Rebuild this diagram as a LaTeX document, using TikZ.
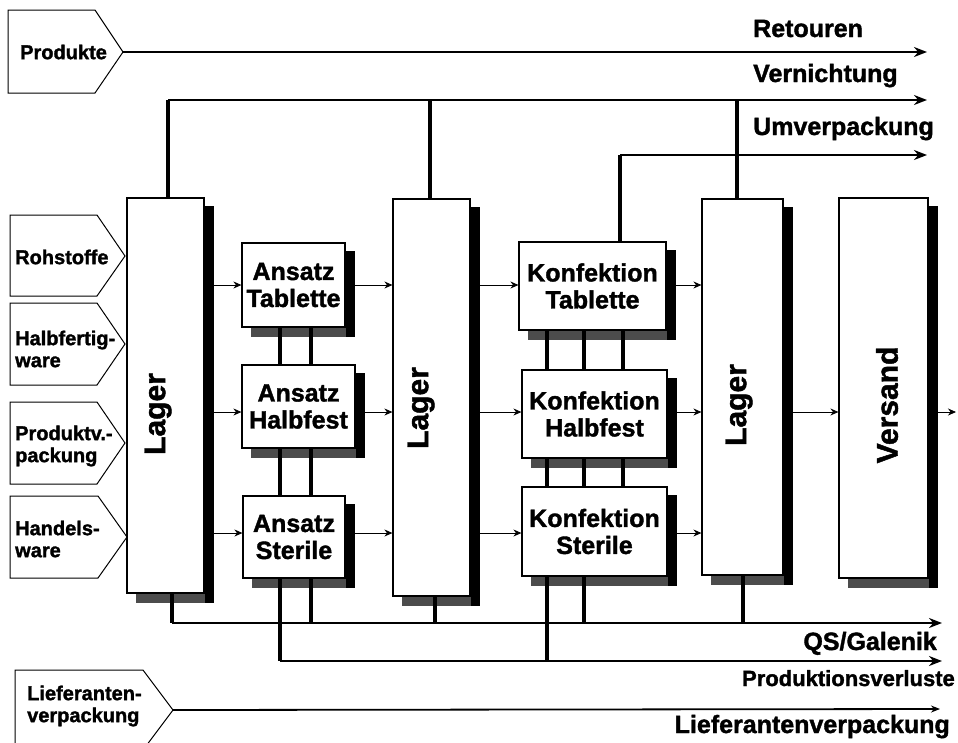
\documentclass[tikz,border=0pt]{standalone}
\usepackage{fontspec}
\setmainfont{Liberation Sans}[BoldFeatures={FakeBold=1.5}]
\usetikzlibrary{arrows.meta,calc}
\newcommand\boxshadow[1]{%
  \fill[black] ($(#1.north east)+(0,9)$) rectangle ($(#1.south east)+(9,9)$);
  \fill[black!70] ($(#1.south west)+(10,0)$) rectangle ($(#1.south east)+(0,9)$);}
\begin{document}
\begin{tikzpicture}[x=1pt,y=-1pt,
  box/.style={draw, line width=1.2pt, fill=white, inner sep=0pt, align=center, font=\bfseries\fontsize{25}{27}\selectfont},
  tallbox/.style={draw, line width=1.2pt, fill=white, inner sep=0pt},
  vlab/.style={rotate=90, font=\bfseries\fontsize{30}{32}\selectfont, inner sep=0pt},
  pent/.style={draw, line width=1pt, fill=white},
  ptext/.style={anchor=west, align=left, inner sep=0pt, font=\bfseries\fontsize{20}{22}\selectfont},
  rlab/.style={inner sep=0pt, font=\bfseries\fontsize{25}{27}\selectfont},
  hline/.style={line width=2.3pt, -{Stealth[length=13pt,width=10pt]}},
  vline/.style={line width=3.5pt},
  arr/.style={line width=0.8pt, -{Stealth[length=8pt,width=7pt]}},
]
\fill[white] (0,0) rectangle (958,742);
\useasboundingbox (0,0) rectangle (958,742);

% input pentagons
\draw[pent] (8,10) -- (95,10) -- (123,52) -- (95,93) -- (8,93) -- cycle;
\node[ptext] (produkte) at (20,52) {Produkte};
\coordinate (produkteTip) at (123,52);
\draw[pent] (10,215) -- (97,215) -- (125,256) -- (97,296) -- (10,296) -- cycle;
\node[ptext] (rohstoffe) at (15,257) {Rohstoffe};
\draw[pent] (10,303) -- (97,303) -- (125,344) -- (97,385) -- (10,385) -- cycle;
\node[ptext] (halbfertig) at (15,349) {Halbfertig-\\ware};
\draw[pent] (10,402) -- (97,402) -- (125,443) -- (97,484) -- (10,484) -- cycle;
\node[ptext] (produktv) at (15,446) {Produktv.-\\packung};
\draw[pent] (10,496) -- (98,496) -- (127,537) -- (98,578) -- (10,578) -- cycle;
\node[ptext] (handels) at (15,539) {Handels-\\ware};
\draw[pent] (15,670) -- (143,670) -- (173,710) -- (143,750) -- (15,750) -- cycle;
\node[ptext] (lieferanten) at (27,706) {Lieferanten-\\verpackung};
\coordinate (lvTip) at (173,710);

% boxes
\node[tallbox, minimum width=77, minimum height=395] (L1) at (165.5,395.5) {};
\node[box, minimum width=103, minimum height=84] (AT) at (293.5,285) {Ansatz\\Tablette};
\node[box, minimum width=113, minimum height=83] (AH) at (298.5,406.5) {Ansatz\\Halbfest};
\node[box, minimum width=102, minimum height=82] (AS) at (294,537) {Ansatz\\Sterile};
\node[tallbox, minimum width=77, minimum height=397] (L2) at (431.5,397.5) {};
\node[box, minimum width=147, minimum height=88] (KT) at (592.5,286) {Konfektion\\Tablette};
\node[box, minimum width=145, minimum height=88] (KH) at (594.5,414) {Konfektion\\Halbfest};
\node[box, minimum width=145, minimum height=89] (KS) at (594.5,531.5) {Konfektion\\Sterile};
\node[tallbox, minimum width=81, minimum height=376] (L3) at (742.5,387) {};
\node[tallbox, minimum width=89, minimum height=380] (V) at (883.5,388) {};
\foreach \n in {L1,AT,AH,AS,L2,KT,KH,KS,L3,V} {\boxshadow{\n}}

\node[vlab] (L1t) at (158,414) {Lager};
\node[vlab] (L2t) at (421,408) {Lager};
\node[vlab] (L3t) at (739,405) {Lager};
\node[vlab] (Vt) at (887,405) {Versand};

% right labels
\node[rlab, anchor=base west] (retouren) at (753,37) {Retouren};
\node[rlab, anchor=base west] (vernichtung) at (753,82) {Vernichtung};
\node[rlab, anchor=base west] (umverpackung) at (753,135) {Umverpackung};
\node[rlab, anchor=base east] (qs) at (937,650) {QS/Galenik};
\node[rlab, anchor=base east, font=\bfseries\fontsize{22}{24}\selectfont] (pv) at (955,686) {Produktionsverluste};
\node[rlab, anchor=base east] (lv) at (950,733) {Lieferantenverpackung};

% coordinates
\coordinate (retE) at (927,52);
\coordinate (verW) at (168,100);
\coordinate (verM) at (430,100);
\coordinate (verR) at (737,100);
\coordinate (verE) at (927,100);
\coordinate (umvW) at (620,155);
\coordinate (umvE) at (927,155);
\coordinate (qsW) at (172,623);
\coordinate (qsA) at (311,623);
\coordinate (qsL2) at (435,623);
\coordinate (qsK) at (584,623);
\coordinate (qsL3) at (743,623);
\coordinate (qsE) at (942,623);
\coordinate (pvW) at (280,661);
\coordinate (pvK) at (547,661);
\coordinate (pvE) at (942,661);
\coordinate (kx3) at (623,0);
\coordinate (lvE) at (940,709);
\coordinate (r1) at (0,285);
\coordinate (r2) at (0,412);
\coordinate (r3) at (0,533);
\coordinate (vOut) at (956,412);

% top buses
\draw[hline] (produkteTip) -- (retE);
\draw[hline] (verW) -- (verE);
\draw[vline] (L1.north -| verW) -- (verW);
\draw[vline] (L2.north -| verM) -- (verM);
\draw[vline] (L3.north -| verR) -- (verR);
\draw[hline] (umvW) -- (umvE);
\draw[vline] (KT.north -| umvW) -- (umvW);

% bottom buses
\draw[vline] (L1.south -| qsW) -- (qsW);
\draw[vline] (AS.south -| pvW) -- (pvW);
\draw[vline] (KS.south -| pvK) -- (pvK);
\draw[hline] (qsW) -- (qsE);
\draw[hline] (pvW) -- (pvE);
\draw[vline] (AS.south -| qsA) -- (qsA);
\draw[vline] (L2.south -| qsL2) -- (qsL2);
\draw[vline] (KS.south -| qsK) -- (qsK);
\draw[vline] (L3.south -| qsL3) -- (qsL3);
\draw[line width=1.8pt, -{Stealth[length=9pt,width=7pt]}] (lvTip) -- (lvE);

% links between stacked boxes
\draw[vline] (AT.south -| pvW) -- (AH.north -| pvW);
\draw[vline] (AT.south -| qsA) -- (AH.north -| qsA);
\draw[vline] (AH.south -| pvW) -- (AS.north -| pvW);
\draw[vline] (AH.south -| qsA) -- (AS.north -| qsA);
\draw[vline] (KT.south -| pvK) -- (KH.north -| pvK);
\draw[vline] (KT.south -| qsK) -- (KH.north -| qsK);
\draw[vline] (KT.south -| kx3) -- (KH.north -| kx3);
\draw[vline] (KH.south -| pvK) -- (KS.north -| pvK);
\draw[vline] (KH.south -| qsK) -- (KS.north -| qsK);
\draw[vline] (KH.south -| kx3) -- (KS.north -| kx3);

% flow arrows
\draw[arr] (L1.east |- r1) -- (AT.west |- r1);
\draw[arr] (L1.east |- r2) -- (AH.west |- r2);
\draw[arr] (L1.east |- r3) -- (AS.west |- r3);
\draw[arr] (AT.east |- r1) -- (L2.west |- r1);
\draw[arr] (AH.east |- r2) -- (L2.west |- r2);
\draw[arr] (AS.east |- r3) -- (L2.west |- r3);
\draw[arr] (L2.east |- r1) -- (KT.west |- r1);
\draw[arr] (L2.east |- r2) -- (KH.west |- r2);
\draw[arr] (L2.east |- r3) -- (KS.west |- r3);
\draw[arr] (KT.east |- r1) -- (L3.west |- r1);
\draw[arr] (KH.east |- r2) -- (L3.west |- r2);
\draw[arr] (KS.east |- r3) -- (L3.west |- r3);
\draw[arr] (L3.east |- r2) -- (V.west |- r2);
\draw[arr] (V.east |- r2) -- (vOut);
\end{tikzpicture}
\end{document}
